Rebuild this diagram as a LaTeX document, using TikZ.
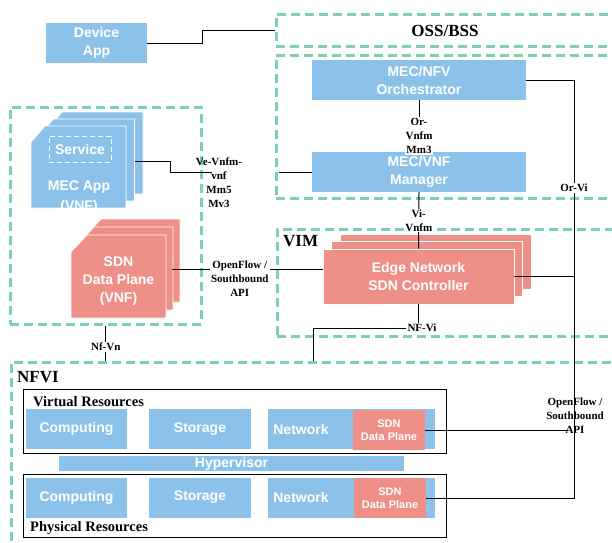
\documentclass[tikz,border=0pt]{standalone}
\usepackage{fontspec}
\setmainfont{Liberation Serif}
\setsansfont{Liberation Sans}
\definecolor{mblue}{HTML}{8CC2EA}
\definecolor{mred}{HTML}{EE8F88}
\definecolor{mgreen}{HTML}{7FCFB4}
\begin{document}
\begin{tikzpicture}[x=1pt,y=-1pt,
 grn/.style={draw=mgreen, line width=2.6pt, dash pattern=on 9pt off 5pt, inner sep=0pt, anchor=north west},
 bx/.style={fill=mblue, text=white, font=\sffamily\bfseries\fontsize{14}{18}\selectfont, inner sep=0pt, align=center},
 rbx/.style={bx, fill=mred},
 wtxt/.style={text=white, font=\sffamily\bfseries\fontsize{14}{18}\selectfont, inner sep=0pt, align=center},
 smtxt/.style={text=white, font=\sffamily\bfseries\fontsize{11}{13}\selectfont, inner sep=0pt, align=center},
 lay/.style={fill=#1, draw=white, line width=0.8pt},
 lbl/.style={font=\bfseries\fontsize{11}{14}\selectfont, align=center, inner sep=1pt},
 wlbl/.style={lbl, fill=white},
 conn/.style={draw=black, line width=1pt},
 ttl/.style={font=\bfseries\fontsize{17}{20}\selectfont, inner sep=0pt},
 resbox/.style={draw=black, line width=1.2pt, inner sep=0pt, anchor=north west},
 restxt/.style={font=\bfseries\fontsize{14.5}{16}\selectfont, inner sep=0pt, anchor=west}
]
\useasboundingbox (0,0) rectangle (612,542);

% dashed groups
\node[grn, minimum width=360pt, minimum height=32pt] (oss) at (275,13) {};
\node[ttl] (osst) at (445,31) {OSS/BSS};
\node[grn, minimum width=360pt, minimum height=143pt] (mano) at (275,54) {};
\node[grn, minimum width=360pt, minimum height=107pt] (vim) at (276,228) {};
\node[ttl, anchor=west] (vimt) at (283,241) {VIM};
\node[grn, minimum width=191pt, minimum height=217pt] (host) at (9,106) {};
\node[grn, minimum width=620pt, minimum height=200pt] (nfvi) at (10,361) {};
\node[ttl, anchor=west] (nfvit) at (17,377) {NFVI};

% top boxes
\node[bx, minimum width=101pt, minimum height=40pt] (dev) at (96.5,43) {Device\\App};
\node[bx, minimum width=214pt, minimum height=40pt] (orch) at (419,80) {MEC/NFV\\Orchestrator};
\node[bx, minimum width=214pt, minimum height=40pt] (mgr) at (419,172) {MEC/VNF\\Manager};

% Edge controller stack
\path[lay=mred] (340,234) rectangle (531,289);
\path[lay=mred] (331.5,241.5) rectangle (522.5,296.5);
\node[rbx, draw=white, line width=0.8pt, minimum width=191pt, minimum height=55pt] (ctrl) at (418.5,276.5) {Edge Network\\SDN Controller};

% MEC App stack
\path[lay=mblue, shift={(17,-14)}] (31,142) -- (45,126) -- (126,126) -- (126,208) -- (31,208) -- cycle;
\path[lay=mblue, shift={(8.5,-7)}] (31,142) -- (45,126) -- (126,126) -- (126,208) -- (31,208) -- cycle;
\path[lay=mblue] (31,142) -- (45,126) -- (126,126) -- (126,208) -- (31,208) -- cycle;
\begin{scope}
\clip (31,142) -- (45,126) -- (126,126) -- (126,208) -- (31,208) -- cycle;
\node[wtxt, font=\sffamily\bfseries\fontsize{14}{20}\selectfont] (mecapp) at (79,197) {MEC App\\(VNF)};
\end{scope}
\node[wtxt, draw=white, line width=0.8pt, dash pattern=on 5pt off 3pt, minimum width=62pt, minimum height=26pt] (svc) at (80,149) {Service};

% SDN data plane stack
\path[lay=mred, shift={(14,-16)}] (71,252) -- (87,235) -- (166,235) -- (166,318) -- (71,318) -- cycle;
\path[lay=mred, shift={(7,-8)}] (71,252) -- (87,235) -- (166,235) -- (166,318) -- (71,318) -- cycle;
\path[lay=mred] (71,252) -- (87,235) -- (166,235) -- (166,318) -- (71,318) -- cycle;
\node[wtxt] (sdnvnf) at (118.5,281) {SDN\\Data Plane\\(VNF)};

% NFVI content
\node[resbox, minimum width=423pt, minimum height=64pt] (vres) at (23,389) {};
\node[restxt] (vrest) at (33,402) {Virtual Resources};
\node[resbox, minimum width=423pt, minimum height=63pt] (pres) at (23,474) {};
\node[restxt] (prest) at (30,528) {Physical Resources};

\node[bx, minimum width=101pt, minimum height=40pt] (vcomp) at (76.5,429) {Computing};
\node[bx, minimum width=102pt, minimum height=40pt] (vstor) at (200,429) {Storage};
\node[bx, minimum width=167pt, minimum height=40pt] (vnet) at (351.5,429) {};
\node[wtxt] (vnett) at (301,429) {Network};
\node[rbx, minimum width=72pt, minimum height=40pt] (vdp) at (389,430) {};
\node[smtxt] (vdpt) at (389,430) {SDN\\Data Plane};

\node[bx, minimum width=345pt, minimum height=15pt] (hyp) at (231.5,463.5) {Hypervisor};

\node[bx, minimum width=101pt, minimum height=40pt] (pcomp) at (76.5,497.5) {Computing};
\node[bx, minimum width=102pt, minimum height=40pt] (pstor) at (200,497.5) {Storage};
\node[bx, minimum width=167pt, minimum height=40pt] (pnet) at (351.5,497.5) {};
\node[wtxt] (pnett) at (301,497.5) {Network};
\node[rbx, minimum width=72pt, minimum height=40pt] (pdp) at (390,498) {};
\node[smtxt] (pdpt) at (390,498) {SDN\\Data Plane};

% coordinates
\coordinate (mecR) at (135,161);
\coordinate (veEnd) at (212,172);
\coordinate (mgrL) at (279,172);
\coordinate (dpR) at (172,269);
\coordinate (railT) at (574,80);
\coordinate (railB) at (574,498);
\coordinate (ofEnd) at (568,430);
\coordinate (nfviT) at (313,361);

% connectors
\draw[conn] (dev.east) -- (202,43) |- (oss.west);
\draw[conn] (orch.south) -- node[wlbl, pos=0.69] (ormlbl) {Or-\\Vnfm\\Mm3} (mgr.north);
\draw[conn] (mecR) -- (170,161) |- (veEnd);
\node[lbl] (velbl) at (219,183) {Ve-Vnfm-\\vnf\\Mm5\\Mv3};
\draw[conn] (mgr.west) -- (mgrL);
\draw[conn] (dpR) -- node[wlbl, pos=0.45, yshift=-10pt] (oflbl) {OpenFlow /\\Southbound\\API} (dpR -| ctrl.west);
\draw[conn] (mgr.south) -- node[wlbl, pos=0.5] (vilbl) {Vi-\\Vnfm} (ctrl.north);
\node[wlbl] (nfvilbl) at (422,328) {NF-Vi};
\draw[conn] (ctrl.south) -- (ctrl.south |- nfvilbl.north);
\draw[conn] (nfvilbl.west) -| (nfviT);
\draw[conn] (host.south) -- node[wlbl, pos=0.6] (nfvnlbl) {Nf-Vn} (host.south |- nfvi.north);
\draw[conn] (orch.east) -- (railT) -- node[wlbl, pos=0.258] (orvilbl) {Or-Vi} (railB) -- (pdp.east);
\draw[conn] (ctrl.east) -- (ctrl.east -| railT);
\draw[conn] (vdp.east) -- (ofEnd);
\node[lbl] (of2lbl) at (575,416) {OpenFlow /\\Southbound\\API};
\end{tikzpicture}
\end{document}
